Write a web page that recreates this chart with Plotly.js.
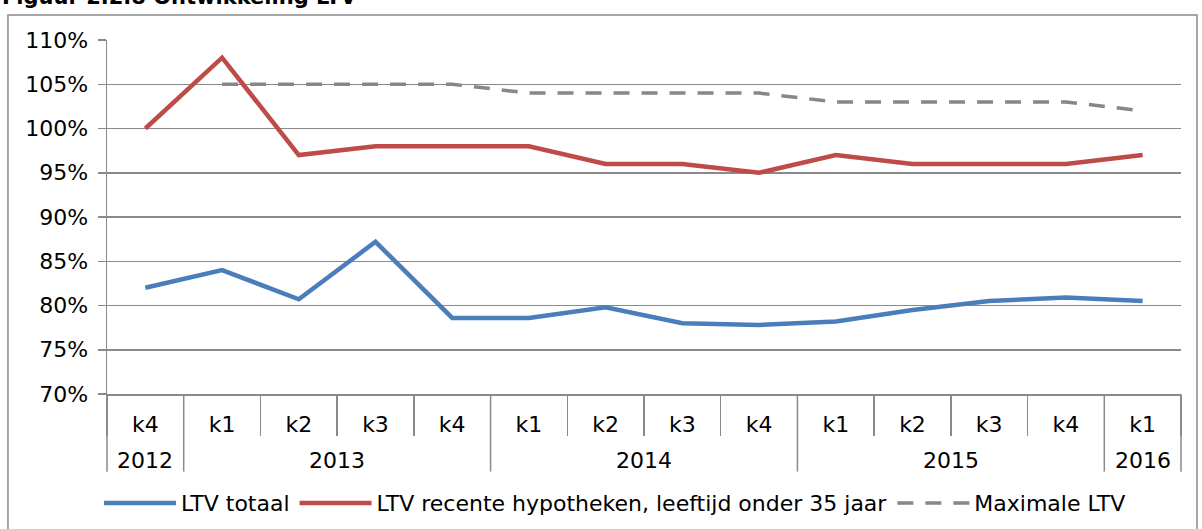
<!DOCTYPE html>
<html>
<head>
<meta charset="utf-8">
<script src="https://cdn.plot.ly/plotly-3.0.1.min.js"></script>
<style>
  html, body { margin: 0; padding: 0; background: #fff; }
  #chart { width: 1202px; height: 529px; }
</style>
</head>
<body>
<div id="chart"></div>
<script>
// Category levels: year (outer) and quarter (inner)
var years    = ['2012','2013','2013','2013','2013','2014','2014','2014','2014','2015','2015','2015','2015','2016'];
var quarters = ['k4','k1','k2','k3','k4','k1','k2','k3','k4','k1','k2','k3','k4','k1'];

// Series values (percent)
var ltvTotaal  = [82.0, 84.0, 80.7, 87.2, 78.6, 78.6, 79.8, 78.0, 77.8, 78.2, 79.5, 80.5, 80.9, 80.5];
var ltvRecent  = [100, 108, 97, 98, 98, 98, 96, 96, 95, 97, 96, 96, 96, 97];
var maxLtv     = [null, 105, 105, 105, 105, 104, 104, 104, 104, 103, 103, 103, 103, 102];

var seriesNames = ['LTV totaal', 'LTV recente hypotheken, leeftijd onder 35 jaar', 'Maximale LTV'];
var titleText = 'Figuur 2.2.8 Ontwikkeling LTV';

var grey = '#8a8a8a';
var n = quarters.length;
var idx = quarters.map(function (q, i) { return i; });

// Year groups derived from the years array
var groups = [];
years.forEach(function (y, i) {
  var g = groups[groups.length - 1];
  if (!g || g.year !== y) { groups.push({ year: y, start: i, end: i }); }
  else { g.end = i; }
});
var dividerPos = [groups[0].start - 0.5].concat(groups.map(function (g) { return g.end + 0.5; }));
var boundaryTicks = [-0.5].concat(idx.map(function (i) { return i + 0.5; }));

function toPaperX(v) { return (v + 0.5) / n; }

var traces = [
  { type: 'scatter', mode: 'lines', name: seriesNames[0], x: idx, y: ltvTotaal,
    line: { color: '#4A7EBB', width: 4.5 } },
  { type: 'scatter', mode: 'lines', name: seriesNames[1], x: idx, y: ltvRecent,
    line: { color: '#BE4B48', width: 4.5 } },
  { type: 'scatter', mode: 'lines', name: seriesNames[2], x: idx, y: maxLtv,
    line: { color: '#878787', width: 3.5, dash: '16px,12px' } }
];

var shapes = [
  { type: 'rect', xref: 'paper', yref: 'paper',
    x0: -0.0922, x1: 1.0149, y0: -0.45, y1: 1.0706,
    line: { color: grey, width: 1.5 }, fillcolor: 'rgba(0,0,0,0)', layer: 'below' }
];
dividerPos.forEach(function (p) {
  shapes.push({ type: 'line', xref: 'paper', yref: 'paper',
    x0: toPaperX(p), x1: toPaperX(p), y0: 0, y1: -0.2193,
    line: { color: grey, width: 1.5 } });
});

var annotations = [
  { text: '<b>' + titleText + '</b>', xref: 'paper', yref: 'paper',
    x: -0.0996, xanchor: 'left', y: 1.082, yanchor: 'bottom', showarrow: false,
    font: { size: 21, color: '#000' } }
];
groups.forEach(function (g) {
  annotations.push({ text: g.year, xref: 'x', yref: 'paper',
    x: (g.start + g.end) / 2, xanchor: 'center', y: -0.1883, yanchor: 'middle',
    showarrow: false, font: { size: 22, color: '#000' } });
});

var layout = {
  width: 1202, height: 529,
  margin: { l: 107, r: 21, t: 40, b: 135 },
  paper_bgcolor: '#fff', plot_bgcolor: '#fff',
  font: { family: 'DejaVu Sans, Verdana, sans-serif', size: 22, color: '#000' },
  showlegend: true,
  legend: {
    orientation: 'h', xref: 'container', yref: 'container',
    x: 0.0824, xanchor: 'left', y: 0.049, yanchor: 'middle',
    itemwidth: 72, font: { size: 22 }, bgcolor: 'rgba(0,0,0,0)'
  },
  xaxis: {
    range: [-0.5, n - 0.5], showgrid: false, zeroline: false,
    tickmode: 'array', tickvals: idx, ticktext: quarters, ticks: '',
    showline: true, linecolor: grey, linewidth: 1.5,
    minor: { tickmode: 'array', tickvals: boundaryTicks, ticks: 'outside', ticklen: 40,
             tickcolor: grey, tickwidth: 1.5, showgrid: false },
    tickfont: { size: 22 }, ticklabelstandoff: 10
  },
  yaxis: {
    range: [70, 110], tick0: 70, dtick: 5, ticksuffix: '%',
    showgrid: true, gridcolor: grey, gridwidth: 1.5, zeroline: false,
    showline: true, linecolor: grey, linewidth: 1.5,
    ticks: 'outside', ticklen: 8, tickcolor: grey, tickwidth: 1.5,
    tickfont: { size: 22 }, ticklabelstandoff: 5
  },
  shapes: shapes,
  annotations: annotations
};

Plotly.newPlot('chart', traces, layout, { staticPlot: true, displayModeBar: false });
</script>
</body>
</html>
